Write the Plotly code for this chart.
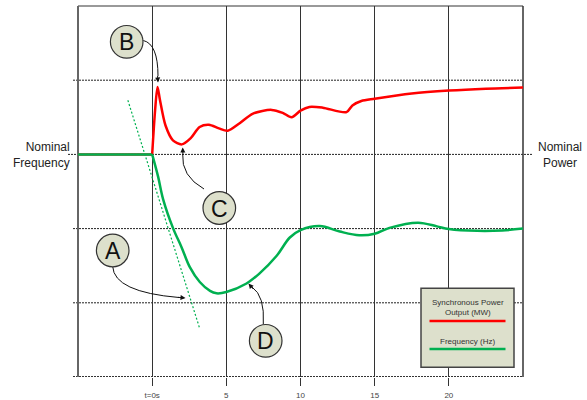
import plotly.graph_objects as go

# ---------------- data ----------------
time_power = [-5, 0, 0.2, 0.36, 0.52, 0.9, 1.4, 2.0, 2.6, 3.2, 3.83, 4.5, 5.1, 5.9, 6.8,
              8.05, 8.8, 9.4, 10.0, 10.6, 11.5, 13.1, 13.5, 14.1, 15, 17.5, 20, 22.5, 25]
power = [3.0, 3.0, 3.6, 3.91, 3.74, 3.39, 3.19, 3.135, 3.22, 3.37, 3.40, 3.35, 3.32, 3.42, 3.55,
         3.60, 3.56, 3.50, 3.59, 3.64, 3.63, 3.57, 3.66, 3.72, 3.75, 3.82, 3.86, 3.885, 3.90]

time_freq = [-5, 0, 0.4, 0.74, 1.42, 1.98, 2.54, 3.21, 3.9, 4.34, 5.0, 6.36, 7.26, 8.38, 9.28,
             10.0, 11.3, 12.65, 13.96, 15.0, 16.0, 17.93, 19.2, 20.0, 21.9, 23.6, 25]
freq = [3.0, 3.0, 2.70, 2.395, 2.0, 1.75, 1.48, 1.28, 1.16, 1.128, 1.145, 1.26, 1.40, 1.63, 1.88,
        1.98, 2.035, 1.96, 1.91, 1.93, 2.01, 2.08, 2.03, 1.995, 1.97, 1.975, 2.0]

tangent_t = [-1.64, 3.21]
tangent_f = [3.73, 0.65]

tick_vals = [0, 5, 10, 15, 20]
tick_text = ["t=0s", "5", "10", "15", "20"]
grid_levels = [1, 2, 3, 4]

series_names = ["Synchronous Power<br>Output (MW)", "Frequency (Hz)"]
RED = "#ff0000"
GREEN = "#00b050"

# ---------------- layout helpers ----------------
W, H = 587, 400
L, R, T, B = 78, 523, 6, 377


def px(x):
    return (x - L) / (R - L)


def py(y):
    return (B - y) / (B - T)


FONT = "Liberation Sans, Arial, sans-serif"

fig = go.Figure()

# red (power) – flat part then response
fig.add_trace(go.Scatter(x=time_power[:2], y=power[:2], mode="lines",
                         line=dict(color=RED, width=2.5), showlegend=False, hoverinfo="skip"))
fig.add_trace(go.Scatter(x=time_power[1:], y=power[1:], mode="lines",
                         line=dict(color=RED, width=2.5, shape="spline", smoothing=0.8),
                         showlegend=False))
# tangent (dotted green)
fig.add_trace(go.Scatter(x=tangent_t, y=tangent_f, mode="lines",
                         line=dict(color=GREEN, width=1.2, dash="2px,2px"),
                         showlegend=False, hoverinfo="skip"))
# green (frequency)
fig.add_trace(go.Scatter(x=time_freq[:2], y=freq[:2], mode="lines",
                         line=dict(color=GREEN, width=2.5), showlegend=False, hoverinfo="skip"))
fig.add_trace(go.Scatter(x=time_freq[1:], y=freq[1:], mode="lines",
                         line=dict(color=GREEN, width=2.5, shape="spline", smoothing=1.0),
                         showlegend=False))

shapes = []
# horizontal dashed grid lines
for lv in grid_levels:
    x0 = 68 if lv == 3 else 73
    x1 = 533 if lv == 3 else 523
    shapes.append(dict(type="line", xref="paper", yref="y", x0=px(x0), x1=px(x1), y0=lv, y1=lv,
                       line=dict(color="#222", width=1, dash="2px,1px"), layer="below"))
# bottom dashed (thicker)
shapes.append(dict(type="line", xref="paper", yref="y", x0=px(73), x1=px(523), y0=0, y1=0,
                   line=dict(color="#333", width=2, dash="2px,1px"), layer="below"))
# top border
shapes.append(dict(type="line", xref="paper", yref="paper", x0=0, x1=1, y0=1, y1=1,
                   line=dict(color="#777", width=1.5), layer="below"))
# left border
shapes.append(dict(type="line", xref="paper", yref="paper", x0=0, x1=0, y0=0, y1=1,
                   line=dict(color="#666", width=2), layer="below"))
# right border
shapes.append(dict(type="line", xref="paper", yref="paper", x0=1, x1=1, y0=0, y1=1,
                   line=dict(color="#333", width=1.5), layer="below"))

# legend box
shapes.append(dict(type="rect", xref="paper", yref="paper", x0=px(421), x1=px(514),
                   y0=py(367.3), y1=py(288.3), fillcolor="#dde0cc",
                   line=dict(color="#444", width=1.5), layer="above"))
shapes.append(dict(type="line", xref="paper", yref="paper", x0=px(429.5), x1=px(505.5),
                   y0=py(321), y1=py(321), line=dict(color=RED, width=2.5), layer="above"))
shapes.append(dict(type="line", xref="paper", yref="paper", x0=px(429.5), x1=px(505.5),
                   y0=py(349), y1=py(349), line=dict(color=GREEN, width=2.5), layer="above"))


def path(pts):
    (x0, y0), (cx, cy), (x1, y1) = pts
    return f"M {px(x0)},{py(y0)} Q {px(cx)},{py(cy)} {px(x1)},{py(y1)}"


# curved arrows (paths)
arrow_paths = [
    [(143.3, 40.5), (158, 44), (158, 76)],      # B
    [(204, 189), (181, 176), (182.7, 154)],     # C
    [(112.7, 266.5), (114, 292), (179, 297.5)],  # A
    [(263.3, 324), (265, 296), (252, 287)],     # D
]
for p in arrow_paths:
    shapes.append(dict(type="path", xref="paper", yref="paper", path=path(p),
                       line=dict(color="#111", width=1), layer="above"))

# circles with letters
circles = [("B", 126.7, 41.8), ("C", 219.3, 208), ("A", 112.7, 250.5), ("D", 265.7, 340.8)]
r = 16.3
for _, cx, cy in circles:
    shapes.append(dict(type="circle", xref="paper", yref="paper",
                       x0=px(cx - r), x1=px(cx + r), y0=py(cy + r), y1=py(cy - r),
                       fillcolor="#dde0cc", line=dict(color="#333", width=1.2), layer="above"))

annotations = []
for letter, cx, cy in circles:
    annotations.append(dict(xref="paper", yref="paper", x=px(cx), y=py(cy + 0.5), text=letter,
                            showarrow=False, xanchor="center", yanchor="middle",
                            font=dict(family=FONT, size=23, color="#111")))

# arrowheads
heads = [(158, 82.5, -0.5, -8), (182.7, 147.5, 0.3, 9), (185.5, 298, -9, -0.8), (248.5, 283.5, 6, 7)]
for hx, hy, ax, ay in heads:
    annotations.append(dict(xref="paper", yref="paper", x=px(hx), y=py(hy), ax=ax, ay=ay,
                            text="", showarrow=True, arrowhead=2, arrowsize=1, arrowwidth=1,
                            arrowcolor="#111", standoff=0))

# side labels
annotations.append(dict(xref="paper", yref="paper", x=px(72), y=py(154.5), text="Nominal<br>Frequency",
                        showarrow=False, xanchor="right", yanchor="middle", align="right",
                        font=dict(family=FONT, size=12, color="#222")))
annotations.append(dict(xref="paper", yref="paper", x=px(560), y=py(154.5), text="Nominal<br>Power",
                        showarrow=False, xanchor="center", yanchor="middle", align="center",
                        font=dict(family=FONT, size=12, color="#222")))

# legend texts
annotations.append(dict(xref="paper", yref="paper", x=px(467.5), y=py(307.7), text=series_names[0],
                        showarrow=False, xanchor="center", yanchor="middle", align="center",
                        font=dict(family=FONT, size=8, color="#333")))
annotations.append(dict(xref="paper", yref="paper", x=px(467.5), y=py(341.7), text=series_names[1],
                        showarrow=False, xanchor="center", yanchor="middle", align="center",
                        font=dict(family=FONT, size=8, color="#333")))

fig.update_layout(
    width=W, height=H,
    margin=dict(l=L, r=W - R, t=T, b=H - B, pad=0, autoexpand=False),
    paper_bgcolor="white", plot_bgcolor="white",
    showlegend=False,
    shapes=shapes, annotations=annotations,
    xaxis=dict(range=[-5, 25], tickvals=tick_vals, ticktext=tick_text, ticks="outside",
               ticklen=8, tickwidth=1, tickcolor="#333", showgrid=True, gridcolor="#333",
               gridwidth=1, zeroline=False, showline=False, fixedrange=True, automargin=False,
               ticklabelstandoff=2,
               tickfont=dict(family=FONT, size=8, color="#444")),
    yaxis=dict(range=[0, 5], showgrid=False, showticklabels=False, zeroline=False,
               showline=False, fixedrange=True, ticks="", automargin=False),
)

fig.write_html("out.html", config={"displayModeBar": False},
               post_script="document.body.style.margin='0';document.body.style.overflow='hidden';")
